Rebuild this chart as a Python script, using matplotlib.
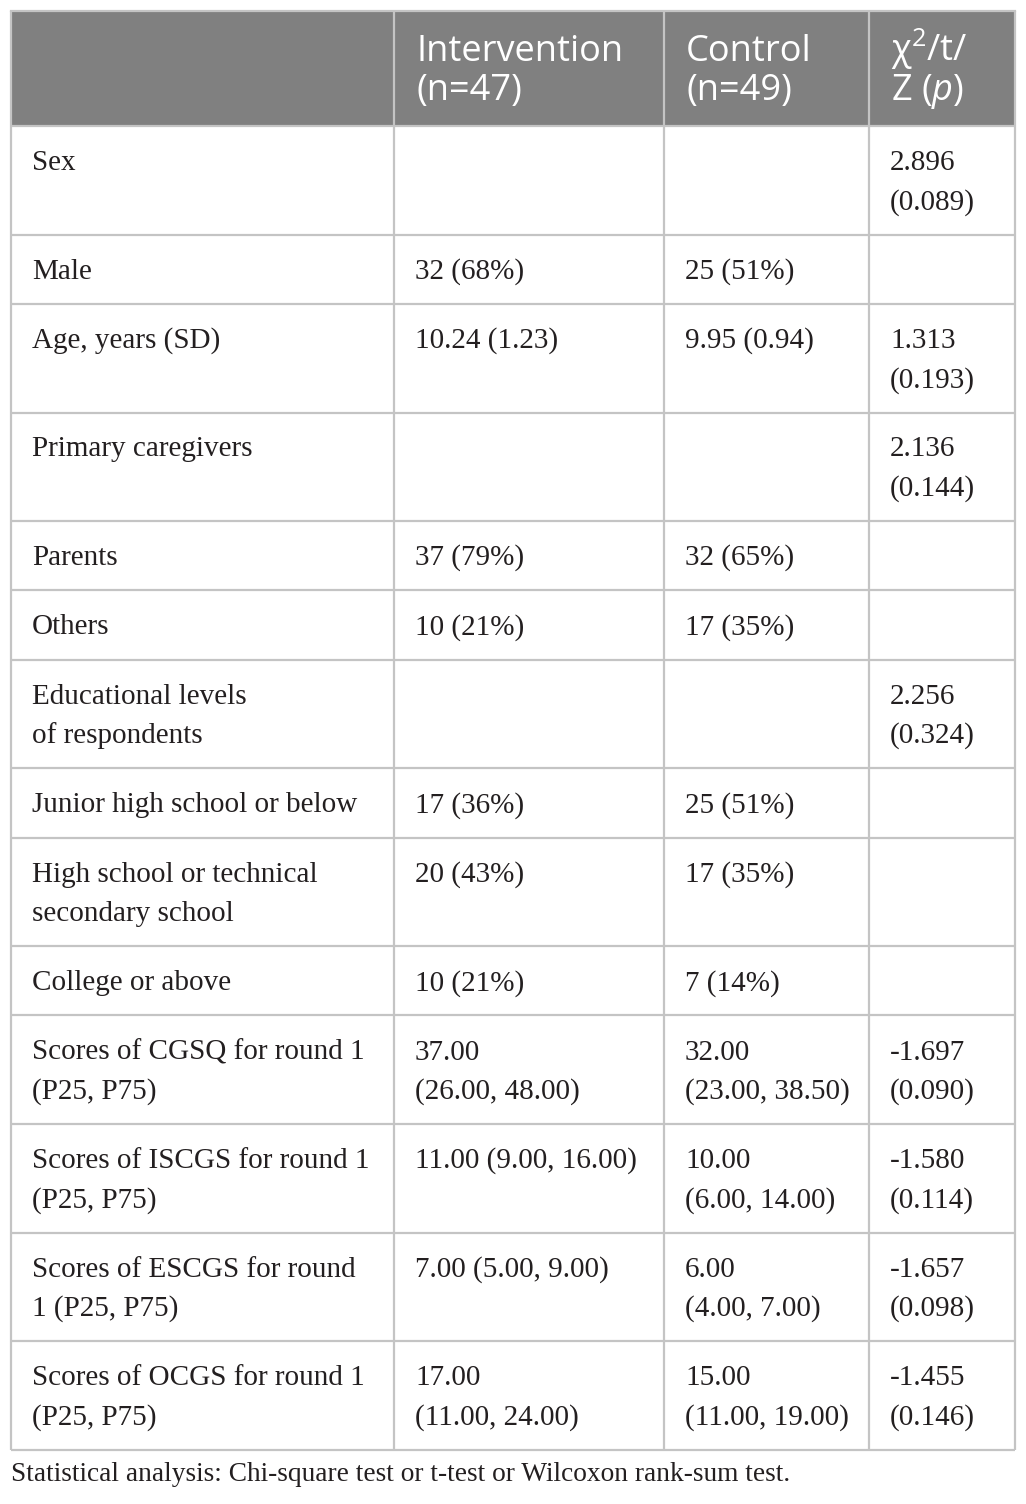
import matplotlib
matplotlib.use('Agg')
import matplotlib.pyplot as plt
from matplotlib.patches import Rectangle

plt.rcParams['mathtext.fontset'] = 'custom'
plt.rcParams['mathtext.rm'] = 'Open Sans'
plt.rcParams['mathtext.it'] = 'Open Sans:italic'

# table content
headers = ["", "Intervention\n(n=47)", "Control\n(n=49)", "χ$^{2}$/t/\nZ ($p$)"]
labels = ["Sex", "Male", "Age, years (SD)", "Primary caregivers", "Parents", "Others",
          "Educational levels\nof respondents", "Junior high school or below",
          "High school or technical\nsecondary school", "College or above",
          "Scores of CGSQ for round 1\n(P25, P75)", "Scores of ISCGS for round 1\n(P25, P75)",
          "Scores of ESCGS for round\n1 (P25, P75)", "Scores of OCGS for round 1\n(P25, P75)"]
intervention = ["", "32 (68%)", "10.24 (1.23)", "", "37 (79%)", "10 (21%)", "",
                "17 (36%)", "20 (43%)", "10 (21%)", "37.00\n(26.00, 48.00)",
                "11.00 (9.00, 16.00)", "7.00 (5.00, 9.00)", "17.00\n(11.00, 24.00)"]
control = ["", "25 (51%)", "9.95 (0.94)", "", "32 (65%)", "17 (35%)", "",
           "25 (51%)", "17 (35%)", "7 (14%)", "32.00\n(23.00, 38.50)",
           "10.00\n(6.00, 14.00)", "6.00\n(4.00, 7.00)", "15.00\n(11.00, 19.00)"]
stats = ["2.896\n(0.089)", "", "1.313\n(0.193)", "2.136\n(0.144)", "", "",
         "2.256\n(0.324)", "", "", "", "-1.697\n(0.090)", "-1.580\n(0.114)",
         "-1.657\n(0.098)", "-1.455\n(0.146)"]
footnote = "Statistical analysis: Chi-square test or t-test or Wilcoxon rank-sum test."

col_x = [11, 394, 664, 869, 1015]
top, head_h = 11, 115
line_h = 39.3
grid = '#c4c4c4'
ink = '#231f20'

fig = plt.figure(figsize=(10.26, 15.04), dpi=100)
ax = fig.add_axes([0, 0, 1, 1])
ax.set_xlim(0, 1026)
ax.set_ylim(1504, 0)
ax.axis('off')

# header band
ax.add_patch(Rectangle((col_x[0], top), col_x[-1] - col_x[0], head_h, color='#808080', lw=0))
for c, h in enumerate(headers):
    for i, part in enumerate(h.split('\n')):
        ax.text(col_x[c] + 22, top + 50 + i * 39, part, color='white', fontsize=26,
                family='Open Sans', va='baseline', ha='left')

# body rows
rows = list(zip(labels, intervention, control, stats))
y = top + head_h
row_lines = [y]
for row in rows:
    n = max(len(cell.split('\n')) for cell in row)
    h = 30 + line_h * n
    for c, cell in enumerate(row):
        for i, part in enumerate(cell.split('\n')):
            if part:
                ax.text(col_x[c] + 21, y + 44 + i * line_h, part, color=ink, fontsize=21,
                        family='Liberation Serif', va='baseline', ha='left')
    y += h
    row_lines.append(y)

bottom = row_lines[-1]
for ry in row_lines:
    ax.plot([col_x[0], col_x[-1]], [ry, ry], color=grid, lw=1.6, solid_capstyle='butt')
for cx in col_x:
    ax.plot([cx, cx], [top, bottom], color=grid, lw=1.6, solid_capstyle='butt')
ax.plot([col_x[0], col_x[-1]], [top, top], color=grid, lw=1.6)

ax.text(11, bottom + 31, footnote, color=ink, fontsize=19.7, family='Liberation Serif',
        va='baseline', ha='left')

fig.savefig('out.png', dpi=100, facecolor='white')
